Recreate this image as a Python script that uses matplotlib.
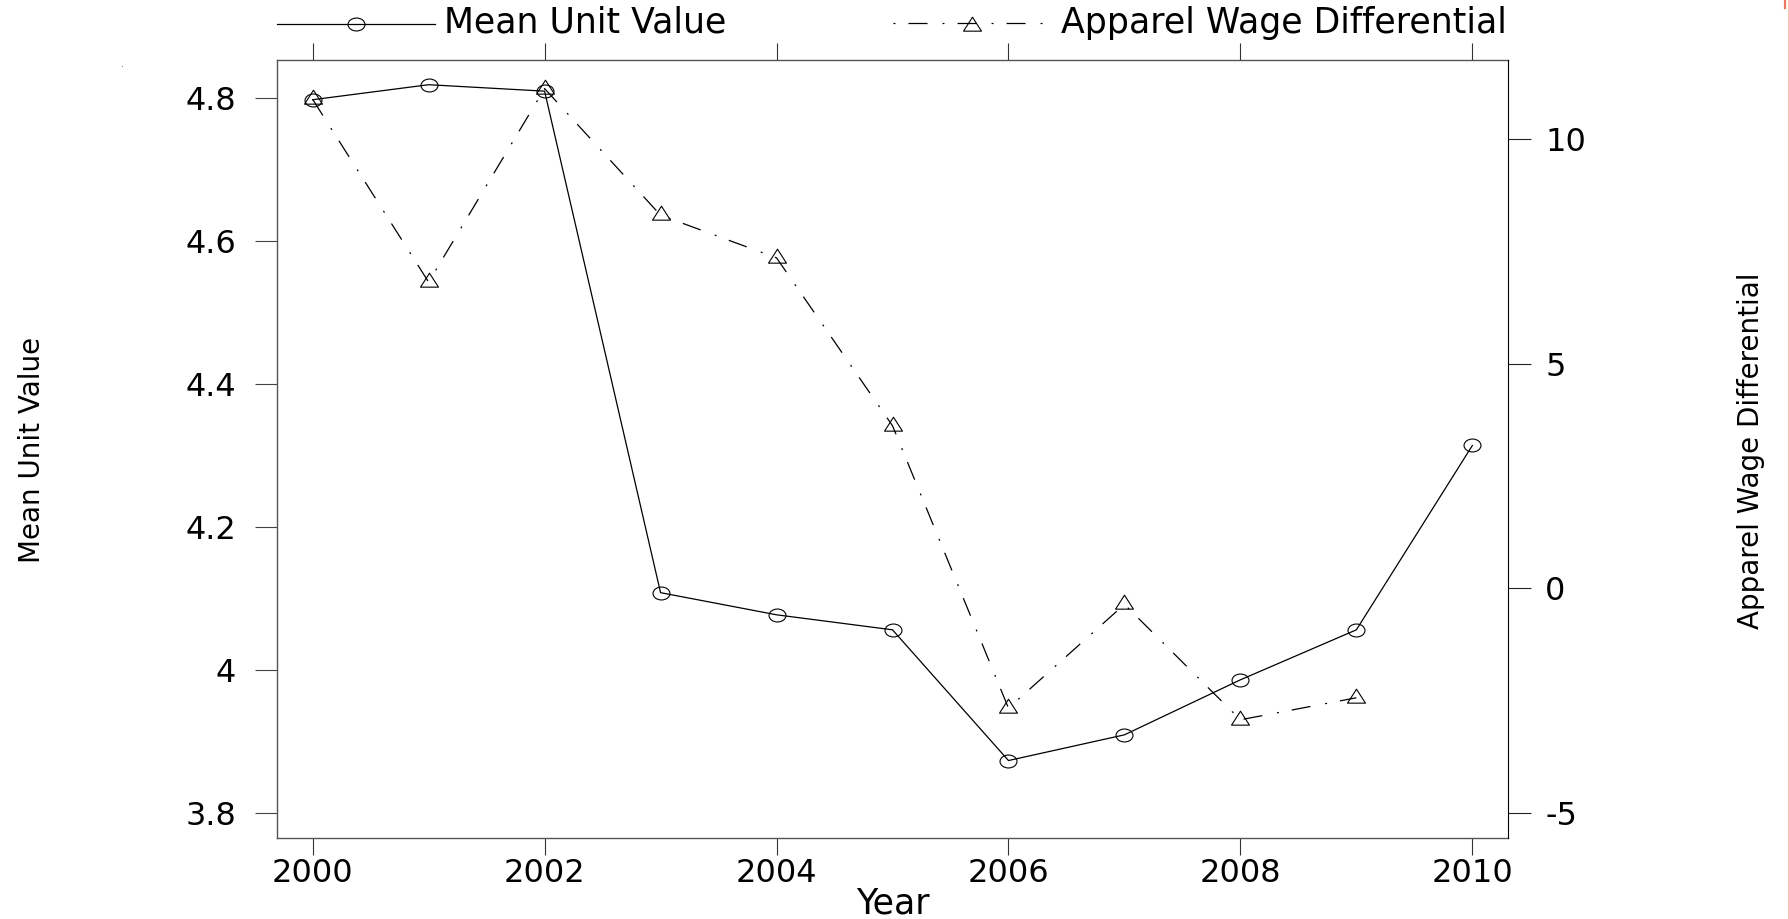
import numpy as np
import matplotlib
matplotlib.use("Agg")
import matplotlib.pyplot as plt
from matplotlib.path import Path
from matplotlib.transforms import Affine2D
from matplotlib.lines import Line2D

# ---- data -------------------------------------------------------------
years = [2000, 2001, 2002, 2003, 2004, 2005, 2006, 2007, 2008, 2009, 2010]
mean_unit_value = [4.798, 4.819, 4.810, 4.108, 4.077, 4.056, 3.873, 3.909, 3.986, 4.056, 4.314]
wage_differential = [10.89, 6.82, 11.13, 8.31, 7.36, 3.62, -2.67, -0.36, -2.93, -2.44, np.nan]

x_ticks = [2000, 2002, 2004, 2006, 2008, 2010]
x_tick_labels = ["2000", "2002", "2004", "2006", "2008", "2010"]
left_ticks = [3.8, 4.0, 4.2, 4.4, 4.6, 4.8]
left_tick_labels = ["3.8", "4", "4.2", "4.4", "4.6", "4.8"]
right_ticks = [-5, 0, 5, 10]
right_tick_labels = ["-5", "0", "5", "10"]

series_labels = ["Mean Unit Value", "Apparel Wage Differential"]

# ---- canvas -----------------------------------------------------------
W, H, DPI = 1789, 919, 100
plt.rcParams["font.family"] = ["DejaVu Sans"]
plt.rcParams["lines.scale_dashes"] = False

fig = plt.figure(figsize=(W / DPI, H / DPI), dpi=DPI, facecolor="white")


def fx(px):
    return px / W


def fy(py):
    return 1.0 - py / H


ax = fig.add_axes([fx(276.7), fy(837.7), fx(1508.3) - fx(276.7), fy(60) - fy(837.7)])
ax2 = ax.twinx()

# hollow, slightly flattened markers
ellipse = Path.unit_circle().transformed(Affine2D().scale(1.31, 1.0))
triangle = Path([(0, 9.33), (-9, -4.67), (9, -4.67), (0, 9.33)],
                [Path.MOVETO, Path.LINETO, Path.LINETO, Path.CLOSEPOLY])
dotdash = (0, (13.7, 10.8, 1.4, 9.4))

ax.plot(years, mean_unit_value, color="black", lw=0.9, marker=ellipse, ms=12.2,
        mfc="none", mec="black", mew=0.8)
ax2.plot(years, wage_differential, color="black", lw=0.9, linestyle=dotdash,
         marker=triangle, ms=13.4, mfc="none", mec="black", mew=0.8)

ax.set_xlim(1999.690, 2010.310)
ax.set_ylim(3.765, 4.8536)
ax2.set_ylim(-5.557, 11.767)

ax.set_xticks(x_ticks, x_tick_labels)
ax.set_yticks(left_ticks, left_tick_labels)
ax2.set_yticks(right_ticks, right_tick_labels)

ax.tick_params(axis="x", direction="out", length=12.2, width=0.8, color="#333333",
               pad=2.5, labelsize=23, top=True, labeltop=False)
ax.tick_params(axis="y", direction="out", length=15.8, width=0.8, color="#444444",
               pad=13.5, labelsize=23)
ax2.tick_params(axis="y", direction="out", length=16.6, width=0.8, color="#222222",
                pad=10, labelsize=23)

for side in ("left", "top", "bottom"):
    ax.spines[side].set_color("#555555")
    ax.spines[side].set_linewidth(1.0)
    ax2.spines[side].set_visible(False)
ax.spines["right"].set_visible(False)
ax2.spines["right"].set_color("black")
ax2.spines["right"].set_linewidth(0.8)

# ---- axis titles ------------------------------------------------------
fig.text(fx(32), fy(449.5), "Mean Unit Value", rotation=90, ha="center", va="center",
         fontsize=20)
fig.text(fx(1751), fy(450.5), "Apparel Wage Differential", rotation=90, ha="center",
         va="center", fontsize=20)
fig.text(fx(892.5), fy(913), "Year", ha="center", va="baseline", fontsize=25)

# ---- key along the top -------------------------------------------------
fig.add_artist(Line2D([fx(276.7), fx(434.6)], [fy(24), fy(24)], transform=fig.transFigure,
                      color="black", lw=0.9))
fig.add_artist(Line2D([fx(356)], [fy(24)], transform=fig.transFigure, marker=ellipse,
                      ms=12.2, mfc="none", mec="black", mew=0.8, linestyle="none"))
fig.text(fx(444.5), fy(32.7), series_labels[0], ha="left", va="baseline", fontsize=25)

fig.add_artist(Line2D([fx(893), fx(1042)], [fy(23.3), fy(23.3)], transform=fig.transFigure,
                      color="black", lw=0.9, linestyle=(24.5, (13.7, 10.8, 1.4, 9.4))))
fig.add_artist(Line2D([fx(971.7)], [fy(26)], transform=fig.transFigure, marker=triangle,
                      ms=13.4, mfc="none", mec="black", mew=0.8, linestyle="none"))
fig.text(fx(1061), fy(32.7), series_labels[1], ha="left", va="baseline", fontsize=25)

# page edge marks
fig.add_artist(Line2D([fx(1788.3), fx(1788.3)], [0, 1], transform=fig.transFigure,
                      color="#f7c6b0", lw=0.8))
fig.add_artist(Line2D([fx(1785), fx(1785)], [fy(0), fy(8)], transform=fig.transFigure,
                      color="#e8795f", lw=1.6))
fig.add_artist(Line2D([fx(122)], [fy(65.5)], transform=fig.transFigure, marker="s",
                      ms=0.8, mfc="#888888", mec="none", linestyle="none"))

fig.savefig("out.png", dpi=DPI, facecolor="white")
